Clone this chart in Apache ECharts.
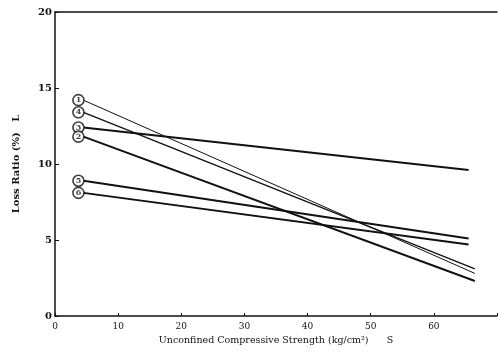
<!DOCTYPE html>
<html>
<head>
<meta charset="utf-8">
<script src="https://cdn.jsdelivr.net/npm/echarts@6/dist/echarts.min.js"></script>
<style>
  html, body { margin: 0; padding: 0; background: #fff; }
  #chart { width: 500px; height: 356px; }
</style>
</head>
<body>
<div id="chart"></div>
<script>
// line numbers as drawn in the circles
var lineIds = ['1', '4', '3', '2', '5', '6']
// start / end of each line (S in kg/cm2, L in %)
var xStart = [4.5, 4.5, 4.5, 4.5, 4.5, 4.5]
var xEnd = [66.5, 66.5, 65.5, 66.5, 65.5, 65.5]
var yStart = [14.2, 13.4, 12.4, 11.8, 8.9, 8.1]
var yEnd = [2.8, 3.1, 9.6, 2.3, 5.1, 4.7]
var lineWidths = [1, 1.4, 2, 2, 2, 2]

var xTicks = [0, 10, 20, 30, 40, 50, 60]
var yTicks = [0, 5, 10, 15, 20]

var serif = 'DejaVu Serif'
var chart = echarts.init(document.getElementById('chart'), null, { renderer: 'canvas' })

var series = []
lineIds.forEach(function (id, i) {
  series.push({
    type: 'line',
    name: 'line' + id,
    data: [[xStart[i], yStart[i]], [xEnd[i], yEnd[i]]],
    showSymbol: false,
    lineStyle: { color: '#111', width: lineWidths[i] },
    silent: true
  })
})
// circled numbers at the start of each line
series.push({
  type: 'scatter',
  data: lineIds.map(function (id, i) { return { value: [xStart[i], yStart[i]], name: id } }),
  symbol: 'circle',
  symbolSize: 11,
  symbolOffset: [-5, 0],
  itemStyle: { color: '#fff', borderColor: '#111', borderWidth: 1.6 },
  label: {
    show: true,
    position: 'inside',
    formatter: function (p) { return p.name },
    color: '#111',
    fontSize: 8,
    fontWeight: 'bold',
    fontFamily: serif
  },
  z: 5,
  silent: true
})

chart.setOption({
  animation: false,
  backgroundColor: '#fff',
  grid: { left: 55, right: 2, top: 12, bottom: 40 },
  xAxis: [{
    type: 'value',
    min: 0,
    max: 70,
    interval: 10,
    name: 'Unconfined Compressive Strength (kg/cm²)      S',
    nameLocation: 'middle',
    nameGap: 20,
    nameTextStyle: { color: '#111', fontSize: 9.5, fontFamily: serif },
    axisLine: { lineStyle: { color: '#111', width: 1.5 } },
    axisTick: { inside: true, length: 3, lineStyle: { color: '#111' } },
    axisLabel: {
      color: '#111', fontSize: 9, fontFamily: serif, margin: 6,
      formatter: function (v) { return xTicks.indexOf(v) >= 0 ? String(v) : '' }
    },
    splitLine: { show: false }
  }, {
    type: 'value',
    position: 'top',
    min: 0,
    max: 70,
    axisLine: { show: true, lineStyle: { color: '#111', width: 1.5 } },
    axisTick: { show: false },
    axisLabel: { show: false },
    splitLine: { show: false }
  }],
  yAxis: {
    type: 'value',
    min: 0,
    max: 20,
    interval: 5,
    name: 'Loss Ratio (%)   L',
    nameLocation: 'middle',
    nameGap: 34,
    nameTextStyle: { color: '#111', fontSize: 10, fontWeight: 'bold', fontFamily: serif },
    axisLine: { lineStyle: { color: '#111', width: 1.5 } },
    axisTick: { inside: true, length: 4, lineStyle: { color: '#111' } },
    axisLabel: {
      color: '#111', fontSize: 10, fontWeight: 'bold', fontFamily: serif, margin: 3,
      formatter: function (v) { return yTicks.indexOf(v) >= 0 ? String(v) : '' }
    },
    splitLine: { show: false }
  },
  series: series
})
</script>
</body>
</html>
